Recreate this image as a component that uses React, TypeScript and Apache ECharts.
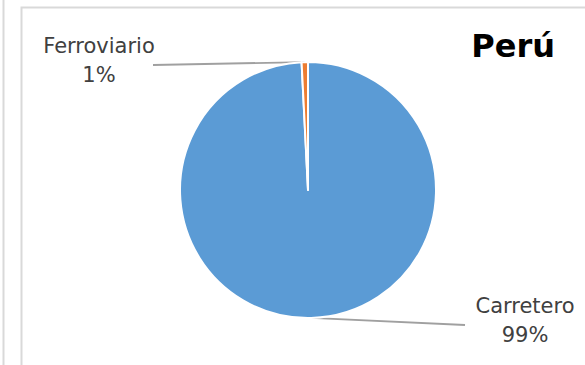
import React, { useEffect, useRef } from "react";
import * as echarts from "echarts";

const categories = ["Carretero", "Ferroviario"];
const shares = [99.2, 0.8];
const colors = ["#5b9bd5", "#ed7d31"];
const chartTitle = "Perú";

export default function App() {
  const ref = useRef<HTMLDivElement>(null);
  useEffect(() => {
    if (!ref.current) return;
    const chart = echarts.init(ref.current, undefined, { renderer: "svg" });
    const labelPos: Record<string, { x: number; y: number; lineEnd: [number, number] }> = {
      Ferroviario: { x: 99, y: 60, lineEnd: [153, 65] },
      Carretero: { x: 525, y: 320, lineEnd: [465, 325] },
    };
    chart.setOption({
      animation: false,
      backgroundColor: "#ffffff",
      title: {
        text: chartTitle,
        right: 25,
        top: 25,
        textStyle: {
          fontFamily: "DejaVu Sans",
          fontWeight: "bold",
          fontSize: 32,
          color: "#000000",
        },
      },
      graphic: [
        {
          type: "line",
          shape: { x1: 3.5, y1: 0, x2: 3.5, y2: 365 },
          style: { stroke: "#d9d9d9", lineWidth: 2 },
          silent: true,
        },
        {
          type: "rect",
          shape: { x: 21.5, y: 7.5, width: 700, height: 500 },
          style: { fill: "none", stroke: "#d9d9d9", lineWidth: 2 },
          silent: true,
        },
      ],
      series: [
        {
          type: "pie",
          center: [308, 190],
          radius: 128,
          startAngle: 90,
          clockwise: true,
          avoidLabelOverlap: false,
          itemStyle: { borderColor: "#ffffff", borderWidth: 2 },
          label: {
            show: true,
            position: "outside",
            fontFamily: "DejaVu Sans",
            fontSize: 21,
            lineHeight: 29,
            color: "#404040",
            align: "center",
            formatter: (p: any) => `${p.name}\n${Math.round(p.percent)}%`,
          },
          labelLine: {
            show: true,
            length: 20,
            length2: 20,
            lineStyle: { color: "#a0a0a0", width: 1.8 },
          },
          labelLayout: (params: any) => {
            const name = categories[params.dataIndex];
            const pos = labelPos[name];
            const pts = params.labelLinePoints;
            const start = pts ? pts[0] : pos.lineEnd;
            return {
              x: pos.x,
              y: pos.y,
              align: "center",
              verticalAlign: "middle",
              labelLinePoints: [start, pos.lineEnd],
            };
          },
          data: categories.map((c, i) => ({
            name: c,
            value: shares[i],
            itemStyle: { color: colors[i] },
          })),
        },
      ],
    });
    return () => chart.dispose();
  }, []);
  return (
    <div
      ref={ref}
      style={{ position: "fixed", left: 0, top: 0, width: 585, height: 365 }}
    />
  );
}
